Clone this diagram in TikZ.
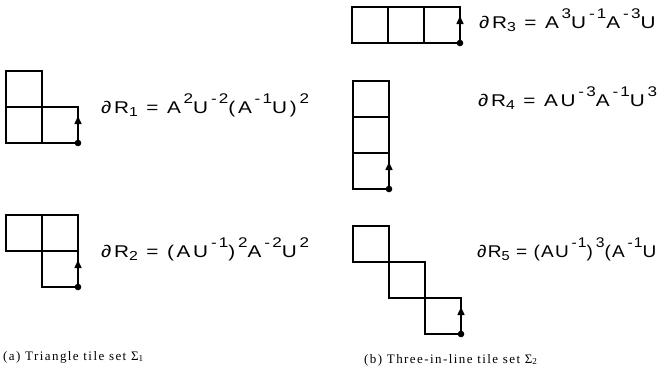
\documentclass[tikz,border=0pt]{standalone}
\usepackage{fontspec}
\setmainfont{Liberation Serif}
\newfontfamily\letterfont[LetterSpace=16,FakeStretch=1.22]{Liberation Sans}
\newfontfamily\tightfont[LetterSpace=7,FakeStretch=1.12]{Liberation Sans}
\newfontfamily\captfont[LetterSpace=11]{Liberation Serif}
\usetikzlibrary{arrows.meta}
% raised exponents and lowered indices of the boundary words
\newcommand{\Pw}[1]{\,\raisebox{10pt}{\fontsize{14}{14}\selectfont #1}}
\newcommand{\Ix}[1]{\raisebox{-3pt}{\fontsize{13}{13}\selectfont #1}}

\begin{document}
\begin{tikzpicture}[x=1pt,y=-1pt,
  tile/.style={draw, line width=1.5pt},
  uparrow/.style={line width=1.5pt, -{Triangle[length=8pt,width=7pt]}},
  startdot/.style={fill=black},
  bdry/.style={anchor=base west, inner sep=0pt, font=\letterfont\fontsize{17}{17}\selectfont},
  tightbdry/.style={bdry, font=\tightfont\fontsize{17}{17}\selectfont},
  capt/.style={anchor=base west, inner sep=0pt, font=\captfont\fontsize{13}{13}\selectfont}]
  \useasboundingbox (0,0) rectangle (668,384);

  % (a) triangle tiles
  \draw[tile] (6,71) rectangle ++(36,36);
  \draw[tile] (6,107) rectangle ++(36,36);
  \draw[tile] (42,107) rectangle ++(36,36);
  \coordinate (s1) at (78,143);
  \coordinate (t1) at (78,116);
  \draw[uparrow] (s1) -- (t1);
  \fill[startdot] (s1) circle (3.3);
  \node[bdry] (r1) at (101,113) {∂R\Ix{1} = A\Pw{2}U\Pw{-2}(A\Pw{-1}U)\Pw{2}};

  \draw[tile] (6,215) rectangle ++(36,36);
  \draw[tile] (42,215) rectangle ++(36,36);
  \draw[tile] (42,251) rectangle ++(36,36);
  \coordinate (s2) at (78,287);
  \coordinate (t2) at (78,260);
  \draw[uparrow] (s2) -- (t2);
  \fill[startdot] (s2) circle (3.3);
  \node[bdry] (r2) at (101,257) {∂R\Ix{2} = (AU\Pw{-1})\Pw{2}A\Pw{-2}U\Pw{2}};

  % (b) three-in-line tiles
  \draw[tile] (352,7) rectangle ++(36,36);
  \draw[tile] (388,7) rectangle ++(36,36);
  \draw[tile] (424,7) rectangle ++(36,36);
  \coordinate (s3) at (460,43);
  \coordinate (t3) at (460,16);
  \draw[uparrow] (s3) -- (t3);
  \fill[startdot] (s3) circle (3.3);
  \node[bdry] (r3) at (479,28) {∂R\Ix{3} = A\Pw{3}U\Pw{-1}A\Pw{-3}U};

  \draw[tile] (353,81) rectangle ++(36,36);
  \draw[tile] (353,117) rectangle ++(36,36);
  \draw[tile] (353,153) rectangle ++(36,36);
  \coordinate (s4) at (389,189);
  \coordinate (t4) at (389,162);
  \draw[uparrow] (s4) -- (t4);
  \fill[startdot] (s4) circle (3.3);
  \node[bdry] (r4) at (478,106) {∂R\Ix{4} = AU\Pw{-3}A\Pw{-1}U\Pw{3}};

  \draw[tile] (353,226) rectangle ++(36,36);
  \draw[tile] (389,262) rectangle ++(36,36);
  \draw[tile] (425,298) rectangle ++(36,36);
  \coordinate (s5) at (461,334);
  \coordinate (t5) at (461,307);
  \draw[uparrow] (s5) -- (t5);
  \fill[startdot] (s5) circle (3.3);
  \node[tightbdry] (r5) at (477,257) {∂R\Ix{5} = (AU\Pw{-1})\Pw{3}(A\Pw{-1}U};

  % captions
  \node[capt] (ca) at (3,360) {(a) Triangle tile set Σ\textsubscript{1}};
  \node[capt] (cb) at (364,363) {(b) Three-in-line tile set Σ\textsubscript{2}};
\end{tikzpicture}
\end{document}
